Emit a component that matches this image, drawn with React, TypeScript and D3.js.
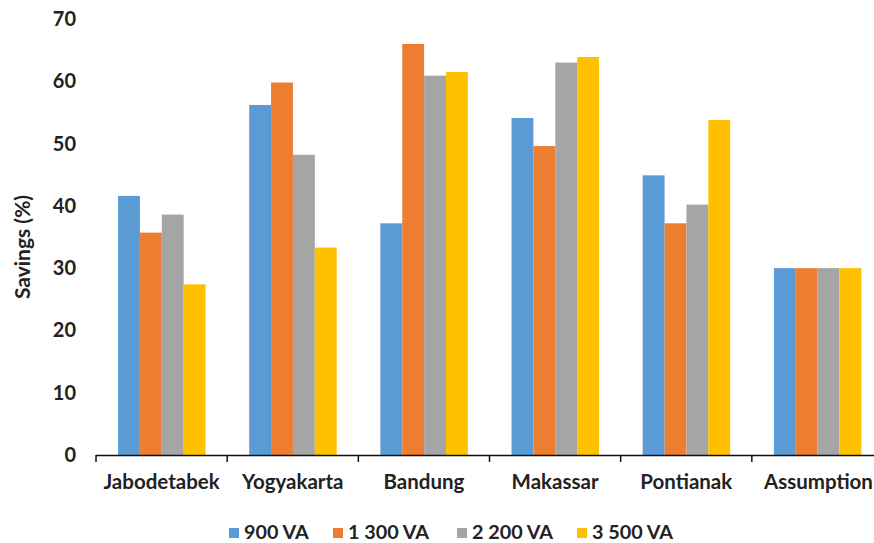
import React from "react";
import * as d3 from "d3";

const categories = ["Jabodetabek", "Yogyakarta", "Bandung", "Makassar", "Pontianak", "Assumption"];
const seriesNames = ["900 VA", "1 300 VA", "2 200 VA", "3 500 VA"];
const va900 = [41.6, 56.2, 37.2, 54.1, 44.9, 30];
const va1300 = [35.7, 59.8, 66.0, 49.6, 37.2, 30];
const va2200 = [38.6, 48.2, 60.9, 63.0, 40.2, 30];
const va3500 = [27.4, 33.3, 61.5, 63.9, 53.8, 30];
const seriesValues = [va900, va1300, va2200, va3500];
const colors = ["#5B9BD5", "#ED7D31", "#A5A5A5", "#FFC000"];
const yTicks = [0, 10, 20, 30, 40, 50, 60, 70];

const W = 874;
const H = 543;
const FONT = "Lato, 'Open Sans', sans-serif";
const TEXT = "#222";

export default function App() {
  const x = d3.scaleBand<string>().domain(categories).range([96, 883]).paddingInner(0).paddingOuter(0);
  const bw = x.bandwidth();
  const xi = d3.scaleBand<string>().domain(seriesNames).range([bw * 0.168, bw * 0.835]).padding(0);
  const y = d3.scaleLinear().domain([0, 70]).range([455, 19]);

  const tickXs = [...categories.map((c) => x(c) as number), (x(categories[categories.length - 1]) as number) + bw];

  const legendXs = [229, 333, 457, 577];

  return (
    <svg
      width={W}
      height={H}
      style={{ position: "absolute", left: 0, top: 0, background: "#fff" }}
      fontFamily={FONT}
    >
      <rect x={0} y={0} width={W} height={H} fill="#fff" />
      {seriesValues.map((vals, si) =>
        vals.map((v, ci) => (
          <rect
            key={`${si}-${ci}`}
            x={(x(categories[ci]) as number) + (xi(seriesNames[si]) as number)}
            y={y(v)}
            width={xi.bandwidth()}
            height={y(0) - y(v)}
            fill={colors[si]}
          />
        ))
      )}
      {/* x axis */}
      <line x1={96} x2={883} y1={455.5} y2={455.5} stroke="#111" strokeWidth={1.5} />
      {tickXs.map((tx, i) => (
        <line key={i} x1={tx} x2={tx} y1={455} y2={462} stroke="#111" strokeWidth={1.5} />
      ))}
      {categories.map((c) => (
        <text
          key={c}
          x={(x(c) as number) + bw / 2 + (c === "Assumption" ? 1 : 0)}
          y={489}
          textAnchor="middle"
          fontSize={20.5}
          fontWeight={700}
          fill={TEXT}
        >
          {c}
        </text>
      ))}
      {/* y ticks */}
      {yTicks.map((t) => (
        <text key={t} x={76} y={y(t) + 7} textAnchor="end" fontSize={20} fontWeight={700} fill={TEXT}>
          {t}
        </text>
      ))}
      <text
        transform={`translate(30,247) rotate(-90)`}
        textAnchor="middle"
        fontSize={21}
        fontWeight={700}
        fill={TEXT}
      >
        Savings (%)
      </text>
      {/* legend */}
      {seriesNames.map((s, i) => (
        <g key={s} transform={`translate(${legendXs[i]},0)`}>
          <rect x={0} y={528} width={10} height={10} fill={colors[i]} />
          <text x={15} y={539} fontSize={19.8} fontWeight={700} fill={TEXT}>
            {s}
          </text>
        </g>
      ))}
    </svg>
  );
}
